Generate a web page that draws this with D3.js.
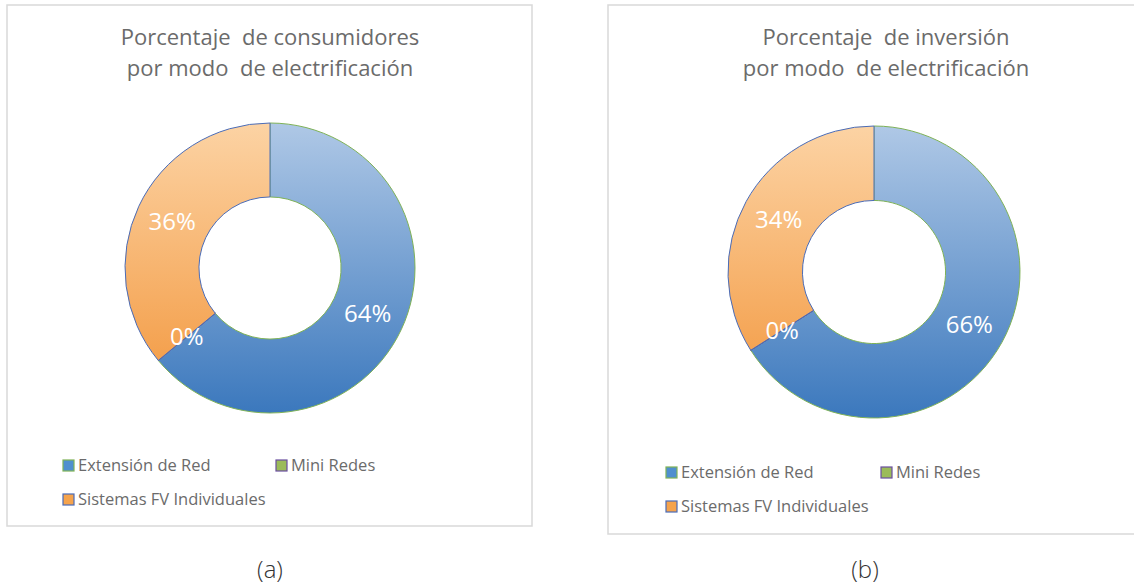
<!DOCTYPE html>
<html>
<head>
    <meta charset="utf-8">
    <title>Porcentaje por modo de electrificación</title>
    <script src="https://d3js.org/d3.v7.min.js"></script>
    <style>
        body { margin: 0; background: #fff; }
        text { font-family: "Open Sans", sans-serif; }
    </style>
</head>
<body>
    <script>
        // categorías y valores (%)
        const categories = ["Extensión de Red", "Mini Redes", "Sistemas FV Individuales"];
        const consumidores = [64, 0, 36];
        const inversion = [66, 0, 34];
        const titlesA = ["Porcentaje  de consumidores", "por modo  de electrificación"];
        const titlesB = ["Porcentaje  de inversión", "por modo  de electrificación"];
        const captions = ["(a)", "(b)"];

        const width = 1134, height = 587;

        const svg = d3.select("body").append("svg")
            .attr("width", width)
            .attr("height", height);

        const defs = svg.append("defs");

        // colores: relleno (degradado) y borde de cada categoría
        const fillTop = ["#afc8e6", "#9bbb59", "#fcd3a4"];
        const fillBottom = ["#3b78bd", "#9bbb59", "#f2953a"];
        const strokes = ["#7fb257", "#6a4ea0", "#4a6cb8"];
        const legendFill = ["#4f8fcf", "#9bbb59", "#f5a34c"];

        const panels = [
            { x: 7, y: 5, w: 525, h: 521, cx: 270, cy: 268, r: 145, values: consumidores, titles: titlesA,
              tx: 270, legX: 63, legY: 470, leg2X: 276, capX: 270 },
            { x: 608, y: 5, w: 540, h: 529, cx: 874, cy: 272, r: 146, values: inversion, titles: titlesB,
              tx: 886, legX: 666, legY: 477, leg2X: 881, capX: 865 }
        ];

        panels.forEach((p, pi) => {
            const g = svg.append("g");

            // marco del gráfico
            g.append("rect")
                .attr("x", p.x)
                .attr("y", p.y)
                .attr("width", p.w)
                .attr("height", p.h)
                .attr("fill", "#fff")
                .attr("stroke", "#d9d9d9")
                .attr("stroke-width", 1.5);

            // título
            g.selectAll("text.title")
                .data(p.titles)
                .enter().append("text")
                .attr("class", "title")
                .attr("x", p.tx)
                .attr("y", (d, i) => 45 + i * 31)
                .attr("text-anchor", "middle")
                .attr("font-size", 22)
                .attr("fill", "#6b6b6b")
                .style("white-space", "pre")
                .text(d => d);

            // degradados verticales (coordenadas del grupo del anillo)
            categories.forEach((c, i) => {
                const grad = defs.append("linearGradient")
                    .attr("id", "grad" + pi + "_" + i)
                    .attr("gradientUnits", "userSpaceOnUse")
                    .attr("x1", 0).attr("y1", -p.r)
                    .attr("x2", 0).attr("y2", p.r);
                grad.append("stop").attr("offset", "0%").attr("stop-color", fillTop[i]);
                grad.append("stop").attr("offset", "100%").attr("stop-color", fillBottom[i]);
            });

            const data = categories.map((c, i) => ({ name: c, value: p.values[i], idx: i }));

            const pie = d3.pie()
                .sort(null)
                .value(d => d.value);

            const arc = d3.arc()
                .innerRadius(p.r * 0.49)
                .outerRadius(p.r);

            const arcs = pie(data);

            const donut = g.append("g")
                .attr("transform", `translate(${p.cx},${p.cy})`);

            donut.selectAll("path")
                .data(arcs)
                .enter().append("path")
                .attr("d", arc)
                .attr("fill", d => `url(#grad${pi}_${d.data.idx})`)
                .attr("stroke", d => strokes[d.data.idx])
                .attr("stroke-width", 1);

            // etiquetas de porcentaje
            donut.selectAll("text.label")
                .data(arcs)
                .enter().append("text")
                .attr("class", "label")
                .attr("transform", d => `translate(${arc.centroid(d)})`)
                .attr("text-anchor", "middle")
                .attr("dy", "0.35em")
                .attr("font-size", 24)
                .attr("fill", "#fff")
                .text(d => d.data.value + "%");

            // leyenda
            const legPos = [
                [p.legX, p.legY],
                [p.leg2X, p.legY],
                [p.legX, p.legY + 34]
            ];

            const leg = g.selectAll("g.leg")
                .data(categories)
                .enter().append("g")
                .attr("class", "leg")
                .attr("transform", (d, i) => `translate(${legPos[i][0]},${legPos[i][1]})`);

            leg.append("rect")
                .attr("x", 0)
                .attr("y", -10)
                .attr("width", 11)
                .attr("height", 11)
                .attr("fill", (d, i) => legendFill[i])
                .attr("stroke", (d, i) => strokes[i])
                .attr("stroke-width", 1.2);

            leg.append("text")
                .attr("x", 15)
                .attr("y", 1)
                .attr("font-size", 16.5)
                .attr("fill", "#6b6b6b")
                .text(d => d);

            // pie de figura
            svg.append("text")
                .attr("x", p.capX)
                .attr("y", 578)
                .attr("text-anchor", "middle")
                .attr("font-size", 24)
                .attr("font-weight", 300)
                .attr("fill", "#333")
                .text(captions[pi]);
        });
    </script>
</body>
</html>
